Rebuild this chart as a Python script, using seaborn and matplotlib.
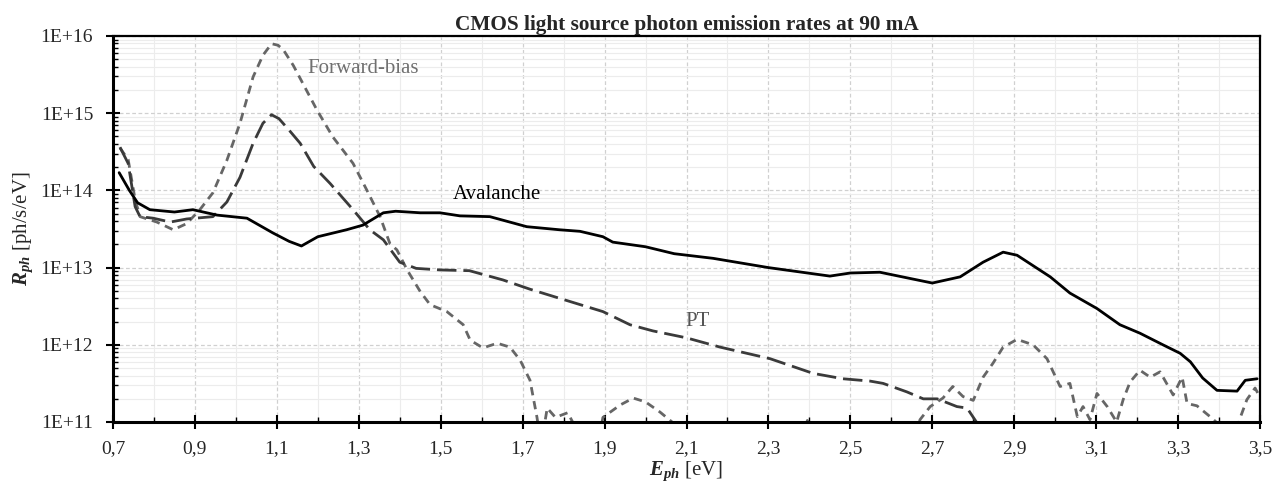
import numpy as np
import pandas as pd
import matplotlib
matplotlib.use("Agg")
import matplotlib.pyplot as plt
import matplotlib.ticker as mticker
import seaborn as sns

# photon energy [eV] and log10 of emission rate [ph/s/eV]
avalanche_e = [0.715, 0.74, 0.76, 0.79, 0.85, 0.895, 0.954, 1.027, 1.09, 1.13, 1.16, 1.2,
               1.27, 1.31, 1.36, 1.39, 1.45, 1.498, 1.547, 1.62, 1.71, 1.79, 1.84, 1.896,
               1.92, 2.0, 2.07, 2.165, 2.3, 2.45, 2.5, 2.572, 2.7, 2.768, 2.824, 2.873,
               2.907, 2.988, 3.036, 3.102, 3.158, 3.207, 3.263, 3.305, 3.33, 3.36, 3.395,
               3.444, 3.464, 3.493]
avalanche_log = [14.23, 14.0, 13.84, 13.75, 13.72, 13.75, 13.68, 13.64, 13.45, 13.34, 13.28,
                 13.40, 13.49, 13.55, 13.71, 13.73, 13.71, 13.71, 13.67, 13.66, 13.53, 13.49,
                 13.47, 13.40, 13.33, 13.27, 13.18, 13.12, 13.0, 12.89, 12.93, 12.94, 12.80,
                 12.88, 13.07, 13.2, 13.16, 12.88, 12.67, 12.47, 12.26, 12.15, 12.0, 11.89,
                 11.78, 11.57, 11.41, 11.40, 11.54, 11.56]

pt_e = [0.717, 0.737, 0.754, 0.766, 0.798, 0.84, 0.88, 0.944, 0.978, 1.01, 1.042, 1.066,
        1.087, 1.105, 1.13, 1.157, 1.19, 1.23, 1.286, 1.327, 1.36, 1.40, 1.44, 1.498, 1.57,
        1.652, 1.718, 1.816, 1.896, 1.962, 2.018, 2.10, 2.182, 2.304, 2.409, 2.482, 2.548,
        2.58, 2.638, 2.678, 2.712, 2.76, 2.785, 2.809, 2.83]
pt_log = [14.56, 14.35, 13.79, 13.66, 13.64, 13.59, 13.63, 13.66, 13.85, 14.17, 14.61, 14.87,
          14.98, 14.93, 14.78, 14.61, 14.31, 14.09, 13.75, 13.49, 13.36, 13.07, 12.99, 12.97,
          12.96, 12.84, 12.72, 12.56, 12.43, 12.26, 12.18, 12.09, 11.97, 11.82, 11.63, 11.56,
          11.53, 11.5, 11.39, 11.30, 11.30, 11.20, 11.18, 10.99, 10.6]

fwd_e = [0.717, 0.737, 0.754, 0.766, 0.807, 0.847, 0.88, 0.912, 0.944, 0.978, 1.01, 1.042,
         1.066, 1.087, 1.103, 1.116, 1.14, 1.198, 1.237, 1.286, 1.32, 1.352, 1.376, 1.393,
         1.418, 1.45, 1.474, 1.515, 1.555, 1.572, 1.603, 1.638, 1.669, 1.694, 1.718, 1.735,
         1.745, 1.76, 1.78, 1.81, 1.823, 1.835, 1.88, 1.896, 1.938, 1.97, 2.0, 2.035, 2.067,
         2.08, 2.38, 2.395, 2.41, 2.65, 2.67, 2.695, 2.726, 2.75, 2.775, 2.8, 2.824, 2.848,
         2.873, 2.907, 2.946, 2.98, 3.012, 3.036, 3.054, 3.068, 3.085, 3.102, 3.127, 3.15,
         3.166, 3.183, 3.207, 3.232, 3.256, 3.288, 3.31, 3.322, 3.346, 3.378, 3.395, 3.41,
         3.44, 3.45, 3.468, 3.488, 3.495]
fwd_log = [14.55, 14.4, 13.88, 13.66, 13.59, 13.49, 13.57, 13.75, 13.97, 14.39, 14.87, 15.47,
           15.75, 15.9, 15.88, 15.82, 15.62, 15.04, 14.69, 14.35, 14.0, 13.66, 13.31, 13.23,
           12.97, 12.69, 12.52, 12.43, 12.26, 12.06, 11.96, 12.02, 11.97, 11.80, 11.54, 11.06,
           10.7, 11.18, 11.06, 11.12, 10.99, 10.6, 10.6, 11.06, 11.22, 11.31, 11.26, 11.13,
           10.99, 10.6, 10.6, 11.02, 10.6, 10.6, 11.03, 11.20, 11.31, 11.46, 11.33, 11.28,
           11.58, 11.76, 11.97, 12.07, 12.0, 11.82, 11.46, 11.50, 11.07, 11.2, 11.03, 11.37,
           11.2, 11.0, 11.29, 11.52, 11.67, 11.58, 11.65, 11.35, 11.58, 11.24, 11.21, 11.07,
           10.99, 10.6, 10.6, 11.03, 11.29, 11.44, 11.37]

x_ticks = [0.7, 0.9, 1.1, 1.3, 1.5, 1.7, 1.9, 2.1, 2.3, 2.5, 2.7, 2.9, 3.1, 3.3, 3.5]
y_ticks = [1e11, 1e12, 1e13, 1e14, 1e15, 1e16]

sns.set_style("whitegrid")
plt.rcParams["font.family"] = ["Liberation Serif", "DejaVu Serif"]
plt.rcParams["mathtext.fontset"] = "custom"
plt.rcParams["mathtext.rm"] = "Liberation Serif"
plt.rcParams["mathtext.it"] = "Liberation Serif:italic"
plt.rcParams["mathtext.bf"] = "Liberation Serif:bold"
plt.rcParams["mathtext.bfit"] = "Liberation Serif:italic:bold"

fig = plt.figure(figsize=(12.82, 4.84), dpi=100)
ax = fig.add_axes([113 / 1282, 62 / 484, 1147 / 1282, 386 / 484])

fwd = pd.DataFrame({"E": fwd_e, "R": np.power(10.0, fwd_log)})
pt = pd.DataFrame({"E": pt_e, "R": np.power(10.0, pt_log)})
aval = pd.DataFrame({"E": avalanche_e, "R": np.power(10.0, avalanche_log)})

sns.lineplot(data=fwd, x="E", y="R", ax=ax, color="#666666", lw=2.0,
             linestyle=(0, (3.0, 2.1)), estimator=None, sort=False)
sns.lineplot(data=pt, x="E", y="R", ax=ax, color="#3a3a3a", lw=2.0,
             linestyle=(0, (7, 2.5)), estimator=None, sort=False)
sns.lineplot(data=aval, x="E", y="R", ax=ax, color="black", lw=2.0,
             estimator=None, sort=False)

ax.set_yscale("log")
ax.set_xlim(0.7, 3.5)
ax.set_ylim(1e11, 1e16)
ax.set_xticks(x_ticks)
ax.set_xticklabels([f"{v:.1f}".replace(".", ",") for v in x_ticks])
ax.xaxis.set_minor_locator(mticker.MultipleLocator(0.1))
ax.set_yticks(y_ticks)
ax.set_yticklabels([f"1E+{int(np.log10(v))}" for v in y_ticks])
ax.yaxis.set_minor_locator(mticker.LogLocator(base=10, subs=np.arange(2, 10)))
ax.yaxis.set_minor_formatter(mticker.NullFormatter())

ax.grid(which="major", color="#d0d0d0", linestyle=(0, (3, 2)), lw=0.9)
ax.grid(which="minor", color="#ececec", linestyle="-", lw=0.8)
ax.set_axisbelow(True)

ax.tick_params(which="major", direction="inout", length=10.5, width=1.5, labelsize=14,
               color="black", left=True, bottom=True)
ax.tick_params(axis="x", which="major", pad=7.5)
ax.tick_params(axis="y", which="major", pad=9)
ax.tick_params(which="minor", direction="in", length=3.5, width=1.0, color="black",
               left=True, bottom=True)

for side in ["left", "bottom"]:
    ax.spines[side].set_linewidth(2.2)
    ax.spines[side].set_color("black")
for side in ["top", "right"]:
    ax.spines[side].set_linewidth(1.6)
    ax.spines[side].set_color("black")

ax.set_title("CMOS light source photon emission rates at 90 mA", fontsize=15.3,
             fontweight="bold", pad=4)
ax.set_xlabel(r"$\mathbfit{E}_{\mathbfit{ph}}$ [eV]", fontsize=15, labelpad=2)
ax.set_ylabel(r"$\mathbfit{R}_{\mathbfit{ph}}$ [ph/s/eV]", fontsize=15, labelpad=4)

ax.text(1.31, 3.8e15, "Forward-bias", fontsize=15, color="#707070", ha="center", va="center")
ax.text(1.637, 8.9e13, "Avalanche", fontsize=15, color="black", ha="center", va="center")
ax.text(2.128, 2.0e12, "PT", fontsize=15, color="#555555", ha="center", va="center")

fig.savefig("out.png", dpi=100)
